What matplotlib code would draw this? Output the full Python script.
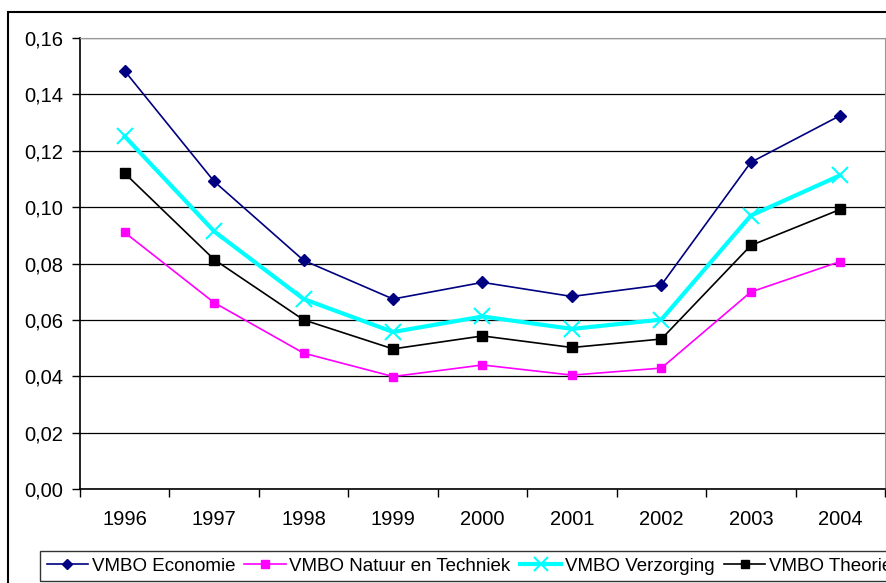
import matplotlib.pyplot as plt
from matplotlib.patches import Rectangle
from matplotlib.ticker import FuncFormatter, FixedLocator

plt.rcParams['font.family'] = ['Liberation Sans', 'DejaVu Sans']

years = ['1996', '1997', '1998', '1999', '2000', '2001', '2002', '2003', '2004']
economie = [0.1483, 0.1091, 0.0811, 0.0674, 0.0733, 0.0683, 0.0724, 0.1159, 0.1325]
natuur = [0.0910, 0.0661, 0.0482, 0.0399, 0.0440, 0.0404, 0.0429, 0.0699, 0.0807]
verzorging = [0.1251, 0.0914, 0.0674, 0.0557, 0.0612, 0.0568, 0.0601, 0.0970, 0.1113]
theorie = [0.1120, 0.0814, 0.0600, 0.0497, 0.0543, 0.0502, 0.0532, 0.0864, 0.0992]

W, H = 887, 583
fig = plt.figure(figsize=(W / 100, H / 100), dpi=100)
ax = fig.add_axes([80 / W, (H - 489) / H, 805 / W, 451 / H])

x = list(range(len(years)))
ax.plot(x, economie, color='#000080', lw=1.2, marker='D', ms=6.5,
        label='VMBO Economie')
ax.plot(x, natuur, color='#ff00ff', lw=1.2, marker='s', ms=6,
        label='VMBO Natuur en Techniek')
ax.plot(x, verzorging, color='#00ffff', lw=3, marker='x', ms=12, mew=1.5,
        label='VMBO Verzorging')
ax.plot(x, theorie, color='black', lw=1.2, marker='s', ms=6.5,
        label='VMBO Theorie')

ax.set_xlim(-0.5, len(years) - 0.5)
ax.set_ylim(0, 0.16)
ax.set_yticks([i * 0.02 for i in range(9)])
ax.yaxis.set_major_formatter(FuncFormatter(lambda v, p: f'{v:.2f}'.replace('.', ',')))
ax.set_xticks(x)
ax.set_xticklabels(years)
ax.xaxis.set_minor_locator(FixedLocator([i - 0.5 for i in range(len(years) + 1)]))
ax.tick_params(axis='x', which='major', length=0, pad=15, labelsize=14.5)
ax.tick_params(axis='x', which='minor', length=6, width=1, color='black')
ax.tick_params(axis='y', length=6, width=1, labelsize=14.5, pad=6)

ax.grid(axis='y', color='black', lw=0.9)
ax.set_axisbelow(True)
for s in ['top', 'right']:
    ax.spines[s].set_color('#999999')
for s in ['left', 'bottom']:
    ax.spines[s].set_color('black')
    ax.spines[s].set_linewidth(1.2)

# chart border
fig.patches.append(Rectangle((8 / W, -0.2), 1.5, 1 - 12 / H + 0.2,
                             transform=fig.transFigure, fill=False,
                             ec='black', lw=1.5))

fig.legend(loc='upper left', bbox_to_anchor=(40 / W, 1 - 551 / H), ncol=4,
           fontsize=13.5, frameon=True, fancybox=False, edgecolor='black',
           borderaxespad=0, handlelength=2.2, handletextpad=0.2,
           columnspacing=0.5, borderpad=0.35, numpoints=1,
           markerscale=0.85)

plt.savefig('out.png', dpi=100)
